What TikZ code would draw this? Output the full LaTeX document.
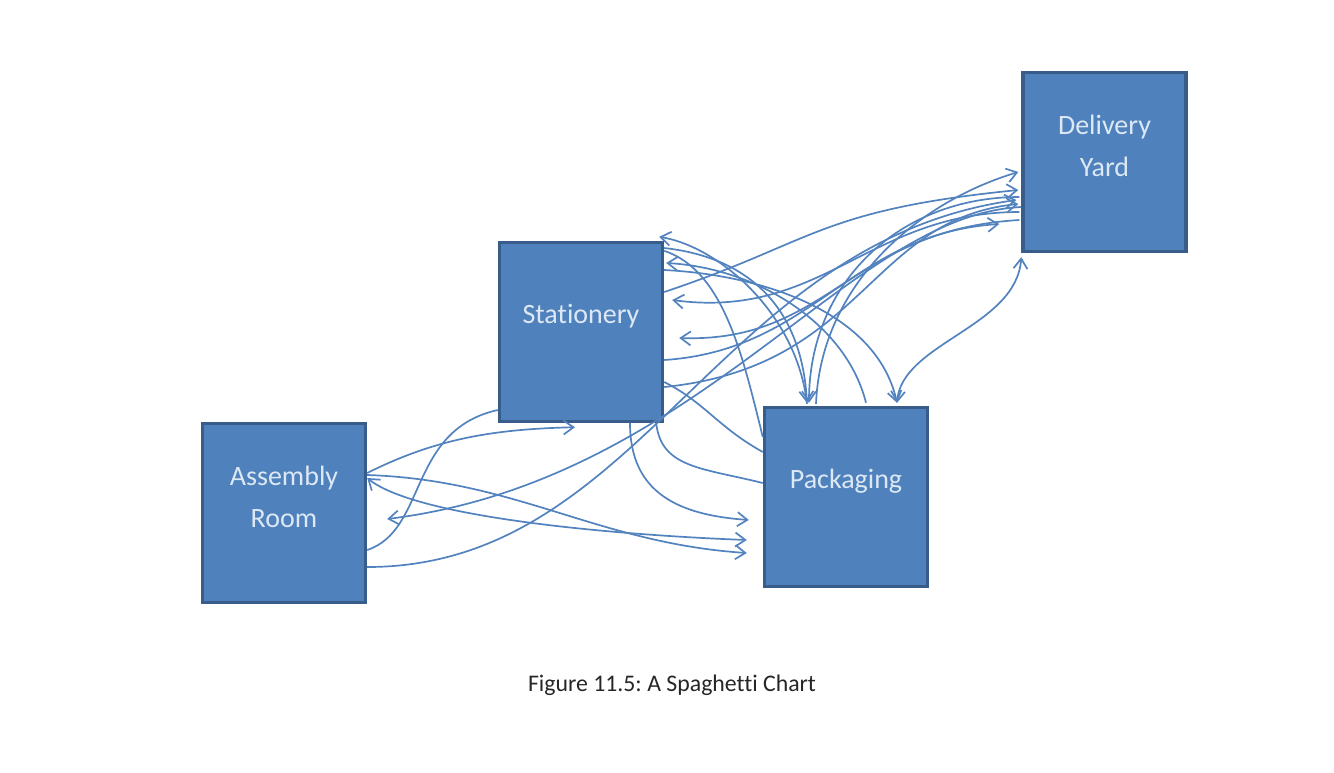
\documentclass[tikz,border=0pt]{standalone}
\usepackage{fontspec}
\setmainfont{Carlito}[Ligatures=NoCommon]
\frenchspacing
\usetikzlibrary{arrows.meta}
\definecolor{roomfill}{HTML}{4F81BD}
\definecolor{roomedge}{HTML}{385D8A}
\definecolor{roomtext}{HTML}{DDE8F5}
\definecolor{pathblue}{HTML}{5383BF}
\definecolor{captiongray}{HTML}{262626}
\tikzset{
  room/.style={draw=roomedge, fill=roomfill, line width=1.7pt,
    minimum width=81.5pt, minimum height=89.5pt, inner sep=0pt},
  roomlabel/.style={text=roomtext, font=\fontsize{14}{21}\selectfont, align=center},
  trip/.style={draw=pathblue, line width=0.85pt},
  walk/.style={trip, -{Straight Barb[length=5pt, width=7pt]}},
  twoway/.style={trip, {Straight Barb[length=5pt, width=7pt]}-{Straight Barb[length=5pt, width=7pt]}},
  caption/.style={text=captiongray, font=\fontsize{11.9}{14}\selectfont}
}
\newcommand{\roombox}[4]{%
  \node[room, label={[roomlabel, yshift=8pt]center:#4}] (#1) at (#2,#3) {};
}

\begin{document}
\begin{tikzpicture}[x=0.5pt, y=-0.5pt]
  \useasboundingbox (0,0) rectangle (1334,772);

  % Rooms
  \roombox{asm}{284}{513}{Assembly\\Room}
  \roombox{sta}{581}{332}{Stationery}
  \roombox{pak}{846}{497}{Packaging}
  \roombox{dly}{1104.5}{162}{Delivery\\Yard}

  % Assembly Room trips
  \draw[walk] ([shift={(0,-40)}]asm.east) .. controls +(70,-35) and +(-80,2) .. ([shift={(-6,4)}]sta.south);
  \draw[walk] ([shift={(0,-38)}]asm.east) .. controls +(150,5) and +(-150,-10) .. ([shift={(-16,56)}]pak.west);
  \draw[twoway] ([shift={(0,-35)}]asm.east) .. controls +(50,40) and +(-130,-5) .. ([shift={(-16,43)}]pak.west);
  \draw[trip] ([shift={(0,37)}]asm.east) .. controls +(60,-20) and +(-90,20) .. ([shift={(0,78)}]sta.west);
  \draw[walk] ([shift={(0,54)}]asm.east) .. controls +(275,0) and +(-300,42) .. ([shift={(-5,38)}]dly.west);
  \draw[walk] ([shift={(0,45)}]dly.west) .. controls +(-172,8) and +(313,-39) .. ([shift={(20,6)}]asm.east);

  % Stationery <-> Packaging
  \draw[walk] ([shift={(49,0)}]sta.south) .. controls +(0,70) and +(-70,-5) .. ([shift={(-14,23)}]pak.west);
  \draw[trip] ([shift={(-8,0)}]sta.south east) .. controls +(5,45) and +(-60,-15) .. ([shift={(0,-14)}]pak.west);
  \draw[trip] ([shift={(0,50)}]sta.east) .. controls +(40,20) and +(-45,-25) .. ([shift={(0,-45)}]pak.west);
  \draw[trip] ([shift={(0,10)}]sta.north east) .. controls +(60,20) and +(-20,-80) .. ([shift={(0,-60)}]pak.west);
  \draw[walk] ([shift={(-39,-2)}]pak.north) .. controls +(-10,-90) and +(60,10) .. ([shift={(-5,-4)}]sta.north east);
  \draw[walk] ([shift={(0,-84)}]sta.east) .. controls +(90,10) and +(-5,-90) .. ([shift={(-39,-3)}]pak.north);
  \draw[walk] ([shift={(0,-62)}]sta.east) .. controls +(100,5) and +(-20,-90) .. ([shift={(51,-3)}]pak.north);
  \draw[walk] ([shift={(20,-3)}]pak.north) .. controls +(-20,-80) and +(90,5) .. ([shift={(2,-69)}]sta.east);

  % Stationery <-> Delivery Yard
  \draw[walk] ([shift={(-2,50)}]dly.west) .. controls +(-150,0) and +(150,20) .. ([shift={(8,-32)}]sta.east);
  \draw[walk] ([shift={(-2,58)}]dly.west) .. controls +(-170,10) and +(150,5) .. ([shift={(15,6)}]sta.east);
  \draw[walk] ([shift={(0,28)}]sta.east) .. controls +(150,-10) and +(-150,10) .. ([shift={(-22,62)}]dly.west);
  \draw[walk] ([shift={(0,55)}]sta.east) .. controls +(200,-20) and +(-150,15) .. ([shift={(-3,42)}]dly.west);
  \draw[walk] ([shift={(0,-40)}]sta.east) .. controls +(150,-50) and +(-200,20) .. ([shift={(-3,28)}]dly.west);

  % Packaging <-> Delivery Yard
  \draw[walk] ([shift={(-2,35)}]dly.west) .. controls +(-120,0) and +(0,-120) .. ([shift={(-37,-3)}]pak.north);
  \draw[walk] ([shift={(-30,-2)}]pak.north) .. controls +(5,-120) and +(-100,30) .. ([shift={(-3,10)}]dly.west);
  \draw[twoway] ([shift={(51,-3)}]pak.north) .. controls +(5,-60) and +(-5,70) .. ([shift={(0,4)}]dly.south west);

  \node[caption] (cap) at (672,685) {Figure 11.5: A Spaghetti Chart};
\end{tikzpicture}
\end{document}
